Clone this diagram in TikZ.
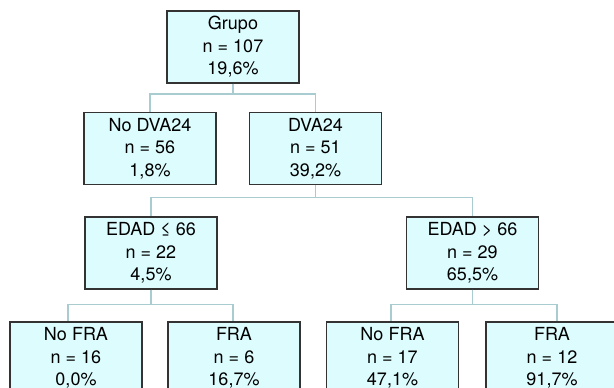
\documentclass[tikz,border=0pt]{standalone}
\usepackage{fontspec}
\setmainfont{TeX Gyre Heros}
\usepackage[x11names, svgnames, rgb]{xcolor}
\usepackage{tikz}
\usetikzlibrary{positioning, calc}

\definecolor{boxfill}{RGB}{221,252,254}
\definecolor{boxline}{RGB}{51,51,51}
\definecolor{edgecol}{RGB}{168,204,208}

\begin{document}
\begin{tikzpicture}[x=1pt,y=-1pt,
    treebox/.style={draw=boxline, fill=boxfill, line width=1.1pt,
      minimum width=132pt, minimum height=72pt, inner sep=0pt,
      align=center, font=\fontsize{18}{22.5}\selectfont},
    treeedge/.style={draw=edgecol, line width=1.3pt}]
  \useasboundingbox (0,0) rectangle (614,388);
%%
  % Node: root
  \node [treebox] (grupo) at (233,47) {Grupo\\n = 107\\19,6\%};
  % Node: level 1
  \node [treebox] (nodva) at (150,148.5) {No DVA24\\n = 56\\1,8\%};
  \node [treebox] (dva) at (315.5,148.5) {DVA24\\n = 51\\39,2\%};
  % Node: level 2
  \node [treebox] (edadlo) at (151,253) {EDAD ≤ 66\\n = 22\\4,5\%};
  \node [treebox] (edadhi) at (472.5,253) {EDAD > 66\\n = 29\\65,5\%};
  % Node: level 3
  \node [treebox] (nofralo) at (76,358) {No FRA\\n = 16\\0,0\%};
  \node [treebox] (fralo) at (234,358) {FRA\\n = 6\\16,7\%};
  \node [treebox] (nofrahi) at (392.5,358) {No FRA\\n = 17\\47,1\%};
  \node [treebox] (frahi) at (552,358) {FRA\\n = 12\\91,7\%};
%%
  % Edge: grupo -- nodva, dva
  \draw [treeedge] (grupo.south) -- ++(0,10.5) -| (nodva.north);
  \draw [treeedge] (grupo.south) -- ++(0,10.5) -| (dva.north);
  % Edge: dva -- edadlo, edadhi
  \draw [treeedge] (dva.south) -- ++(0,12.5) -| (edadlo.north);
  \draw [treeedge] (dva.south) -- ++(0,12.5) -| (edadhi.north);
  % Edge: edadlo -- nofralo, fralo
  \draw [treeedge] (edadlo.south) -- ++(0,15) -| ([xshift=-8pt]nofralo.north);
  \draw [treeedge] (edadlo.south) -- ++(0,15) -| ([xshift=-1pt]fralo.north);
  % Edge: edadhi -- nofrahi, frahi
  \draw [treeedge] (edadhi.south) -- ++(0,15) -| ([xshift=-1.5pt]nofrahi.north);
  \draw [treeedge] (edadhi.south) -- ++(0,15) -| ([xshift=5pt]frahi.north);
%
\end{tikzpicture}
\end{document}
